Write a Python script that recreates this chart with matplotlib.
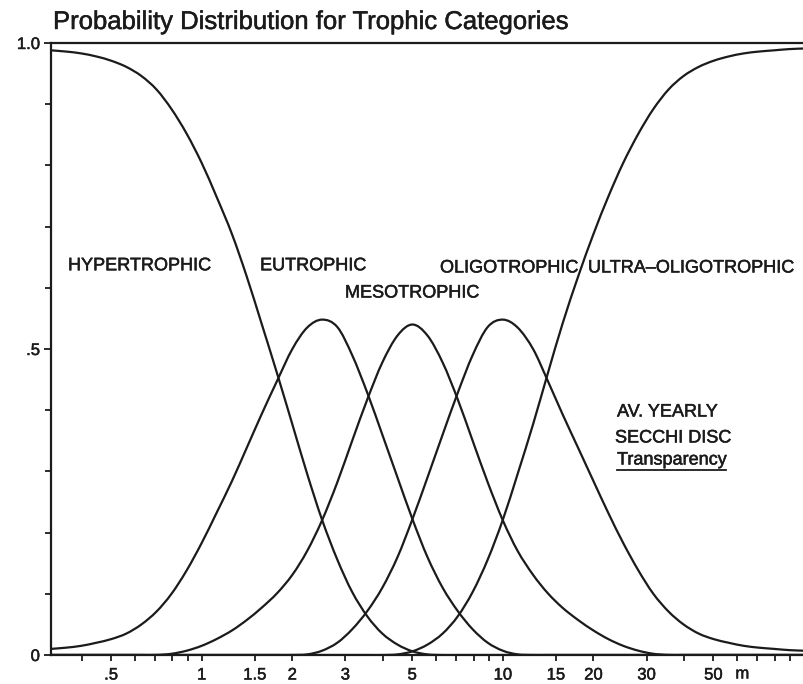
import numpy as np
import matplotlib
matplotlib.use('Agg')
import matplotlib.pyplot as plt
import matplotlib.patheffects as pe
from matplotlib.lines import Line2D
from matplotlib.patches import PathPatch
from matplotlib.path import Path
from matplotlib.ticker import FixedLocator, NullFormatter

depth = [0.316, 0.355, 0.398, 0.447, 0.501, 0.562, 0.631, 0.708, 0.794, 0.891,
         1.0, 1.12, 1.26, 1.41, 1.58, 1.78, 2.0, 2.24, 2.51, 2.82,
         3.16, 3.55, 3.98, 4.47, 5.01, 5.62, 6.31, 7.08, 7.94, 8.91,
         10.0, 11.2, 12.6, 14.1, 15.8, 17.8, 20.0, 22.4, 25.1, 28.2,
         31.6, 35.5, 39.8, 44.7, 50.1, 56.2, 63.1, 70.8, 79.4, 89.1, 100.0]

hypertrophic = [0.988, 0.986, 0.983, 0.978, 0.971, 0.961, 0.946, 0.924, 0.892, 0.852,
                0.804, 0.749, 0.688, 0.619, 0.542, 0.460, 0.377, 0.296, 0.221, 0.156,
                0.103, 0.063, 0.035, 0.017, 0.006, 0.001, 0.0, 0.0, 0.0, 0.0,
                0.0, 0.0, 0.0, 0.0, 0.0, 0.0, 0.0, 0.0, 0.0, 0.0,
                0.0, 0.0, 0.0, 0.0, 0.0, 0.0, 0.0, 0.0, 0.0, 0.0, 0.0]

eutrophic = [0.010, 0.012, 0.015, 0.020, 0.026, 0.035, 0.050, 0.071, 0.100, 0.138,
             0.183, 0.232, 0.284, 0.338, 0.393, 0.448, 0.500, 0.535, 0.548, 0.536,
             0.490, 0.428, 0.360, 0.290, 0.222, 0.160, 0.110, 0.072, 0.042, 0.020,
             0.007, 0.001, 0.0, 0.0, 0.0, 0.0, 0.0, 0.0, 0.0, 0.0,
             0.0, 0.0, 0.0, 0.0, 0.0, 0.0, 0.0, 0.0, 0.0, 0.0, 0.0]

mesotrophic = [0.0, 0.0, 0.0, 0.0, 0.0, 0.0, 0.0, 0.0, 0.002, 0.007,
               0.015, 0.026, 0.040, 0.057, 0.077, 0.101, 0.131, 0.170, 0.220, 0.282,
               0.350, 0.418, 0.478, 0.522, 0.540, 0.522, 0.478, 0.418, 0.350, 0.282,
               0.220, 0.170, 0.131, 0.101, 0.077, 0.057, 0.040, 0.026, 0.015, 0.007,
               0.002, 0.0, 0.0, 0.0, 0.0, 0.0, 0.0, 0.0, 0.0, 0.0, 0.0]

oligotrophic = [0.0, 0.0, 0.0, 0.0, 0.0, 0.0, 0.0, 0.0, 0.0, 0.0,
                0.0, 0.0, 0.0, 0.0, 0.0, 0.0, 0.0, 0.001, 0.007, 0.020,
                0.042, 0.072, 0.110, 0.160, 0.222, 0.290, 0.360, 0.428, 0.490, 0.536,
                0.548, 0.535, 0.500, 0.448, 0.393, 0.338, 0.284, 0.232, 0.183, 0.138,
                0.100, 0.071, 0.050, 0.035, 0.026, 0.020, 0.015, 0.012, 0.010, 0.008, 0.007]

ultra_oligotrophic = [0.0, 0.0, 0.0, 0.0, 0.0, 0.0, 0.0, 0.0, 0.0, 0.0,
                      0.0, 0.0, 0.0, 0.0, 0.0, 0.0, 0.0, 0.0, 0.0, 0.0,
                      0.0, 0.0, 0.0, 0.001, 0.006, 0.017, 0.035, 0.063, 0.103, 0.156,
                      0.221, 0.296, 0.377, 0.460, 0.542, 0.619, 0.688, 0.749, 0.804, 0.852,
                      0.892, 0.924, 0.946, 0.961, 0.971, 0.978, 0.983, 0.986, 0.988, 0.990, 0.991]

x_ticks = [0.5, 1, 1.5, 2, 3, 5, 10, 15, 20, 30, 50]
x_tick_labels = ['.5', '1', '1.5', '2', '3', '5', '10', '15', '20', '30', '50']
x_minor = [0.4, 0.6, 0.7, 0.8, 0.9, 4, 6, 7, 8, 9, 40, 60, 70, 80, 90]
y_ticks = [0, 0.5, 1.0]
y_tick_labels = ['0', '.5', '1.0']
y_minor = [0.1, 0.2, 0.3, 0.4, 0.6, 0.7, 0.8, 0.9]

INK = '#1b1b1b'
plt.rcParams['font.family'] = ['Liberation Sans', 'DejaVu Sans']
heavier = [pe.withStroke(linewidth=0.35, foreground=INK)]


def smooth_path(xs, ys):
    # Catmull-Rom through the read points, drawn as cubic Beziers in log-x space
    lx = np.log10(xs)
    ys = np.asarray(ys, dtype=float)
    pts = np.column_stack([lx, ys])
    ext = np.vstack([pts[0], pts, pts[-1]])
    verts = [pts[0]]
    codes = [Path.MOVETO]
    for k in range(len(pts) - 1):
        p0, p1, p2, p3 = ext[k], ext[k + 1], ext[k + 2], ext[k + 3]
        verts += [p1 + (p2 - p0) / 6, p2 - (p3 - p1) / 6, p2]
        codes += [Path.CURVE4] * 3
    verts = np.array(verts)
    verts[:, 0] = 10 ** verts[:, 0]
    return Path(verts, codes)


fig = plt.figure(figsize=(8.04, 6.84), dpi=100)
ax = fig.add_axes([51 / 804, 29 / 684, 753 / 804, 612 / 684])

ax.set_xscale('log')
ax.set_xlim(0.316, 100)
ax.set_ylim(0, 1)

for ys in (hypertrophic, eutrophic, mesotrophic, oligotrophic, ultra_oligotrophic):
    ax.add_patch(PathPatch(smooth_path(depth, ys), fill=False, edgecolor=INK,
                           lw=1.6, capstyle='round'))

ax.xaxis.set_major_locator(FixedLocator(x_ticks))
ax.xaxis.set_minor_locator(FixedLocator(x_minor))
ax.set_xticklabels(x_tick_labels)
ax.xaxis.set_minor_formatter(NullFormatter())
ax.yaxis.set_major_locator(FixedLocator(y_ticks))
ax.yaxis.set_minor_locator(FixedLocator(y_minor))
ax.set_yticklabels(y_tick_labels)

ax.spines['right'].set_visible(False)
for side in ('left', 'bottom', 'top'):
    ax.spines[side].set_color(INK)
    ax.spines[side].set_linewidth(1.6)

ax.tick_params(which='both', direction='out', length=4, width=1.3, color=INK,
               labelcolor=INK, labelsize=12, top=False, right=False)
ax.tick_params(axis='x', pad=5)
ax.tick_params(axis='y', which='major', length=5, pad=3)
for lbl in ax.get_xticklabels() + ax.get_yticklabels():
    lbl.set_path_effects(heavier)

# unit after the last labelled tick
ax.text(62.4, -0.031, 'm', transform=ax.get_xaxis_transform(),
        ha='center', va='center', fontsize=12, color=INK, path_effects=heavier)

fig.text(53 / 804, 1 - 29 / 684, 'Probability Distribution for Trophic Categories',
         fontsize=18.5, color=INK, ha='left', va='baseline', path_effects=heavier)

lab = dict(transform=ax.transAxes, fontsize=13, color=INK, ha='left', va='center',
           path_effects=heavier)
ax.text(0.0226, 0.636, 'HYPERTROPHIC', **lab)
ax.text(0.2776, 0.636, 'EUTROPHIC', **lab)
ax.text(0.3904, 0.5915, 'MESOTROPHIC', **lab)
ax.text(0.5166, 0.6324, 'OLIGOTROPHIC', **lab)
ax.text(0.7131, 0.6324, 'ULTRA\u2013OLIGOTROPHIC', **lab)
ax.text(0.7517, 0.397, 'AV. YEARLY', **lab)
ax.text(0.749, 0.3546, 'SECCHI DISC', **lab)
t = ax.text(0.7517, 0.3186, 'Transparency', **lab)

fig.canvas.draw()
bb = t.get_window_extent().transformed(fig.transFigure.inverted())
fig.add_artist(Line2D([bb.x0, bb.x1], [bb.y0 - 0.002, bb.y0 - 0.002],
                      transform=fig.transFigure, color=INK, lw=1.3))

fig.savefig('out.png', dpi=100, facecolor='white')
